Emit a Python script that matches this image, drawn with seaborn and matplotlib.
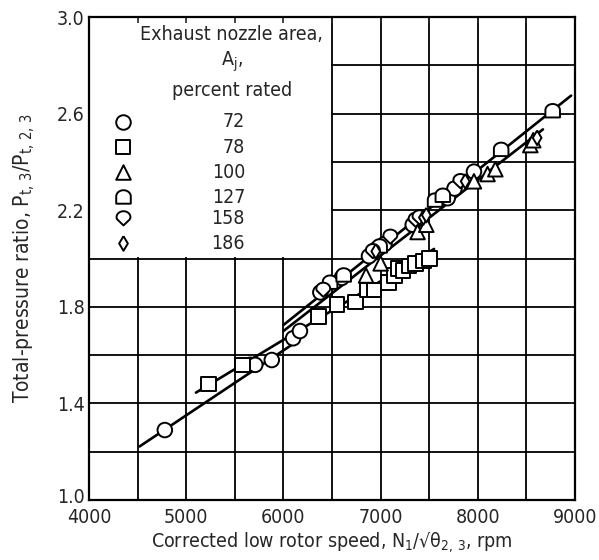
import numpy as np
import pandas as pd
import seaborn as sns
import matplotlib.pyplot as plt
import matplotlib.transforms as mtransforms
from matplotlib.path import Path
from matplotlib.markers import MarkerStyle
from matplotlib.patches import Rectangle

# exhaust nozzle area, percent rated -> (speed, pressure ratio)
x_72 = [4780, 5660, 5710, 5880, 6100, 6170, 6380, 6600, 6880, 6960, 7040, 7330, 7420, 7690, 7760, 7960]
y_72 = [1.29, 1.56, 1.56, 1.58, 1.67, 1.70, 1.86, 1.92, 2.01, 2.04, 2.06, 2.14, 2.17, 2.25, 2.29, 2.36]
x_78 = [5230, 5580, 6360, 6550, 6740, 6860, 6930, 7080, 7140, 7180, 7230, 7290, 7360, 7440, 7500]
y_78 = [1.48, 1.56, 1.76, 1.81, 1.82, 1.87, 1.87, 1.90, 1.93, 1.96, 1.95, 1.97, 1.98, 1.99, 2.00]
x_100 = [6850, 7000, 7380, 7470, 7960, 8100, 8180, 8540, 8570]
y_100 = [1.93, 1.98, 2.11, 2.14, 2.32, 2.35, 2.37, 2.47, 2.49]
x_127 = [6480, 6620, 6990, 7560, 7640, 8240, 8770]
y_127 = [1.90, 1.93, 2.05, 2.24, 2.26, 2.45, 2.61]
x_158 = [6410, 6920, 7100, 7360, 7400, 7820]
y_158 = [1.87, 2.03, 2.09, 2.16, 2.17, 2.32]
x_186 = [6950, 7440, 7470, 7870, 8610]
y_186 = [2.03, 2.17, 2.18, 2.32, 2.50]

areas = ["72", "78", "100", "127", "158", "186"]

# faired curves (end points)
fair_lines = {
    "72": ([4520, 6150], [1.222, 1.66]),
    "78": ([5100, 7550], [1.445, 2.04]),
    "100": ([6000, 8670], [1.70, 2.535]),
    "main": ([6000, 8960], [1.725, 2.675]),
}

df = pd.concat([
    pd.DataFrame({"speed": x, "ratio": y, "area": a})
    for x, y, a in zip([x_72, x_78, x_100, x_127, x_158, x_186],
                       [y_72, y_78, y_100, y_127, y_158, y_186], areas)
])

# custom marker shapes
t = np.linspace(0, np.pi, 25)
dome = Path(np.vstack([np.c_[np.cos(t), 0.15 + 0.85 * np.sin(t)],
                       [[-1, -0.85], [1, -0.85], [1, 0.15]]]), closed=False)
t2 = np.linspace(-0.35, np.pi + 0.35, 25)
shield = Path(np.vstack([np.c_[np.cos(t2), 0.2 + 0.85 * np.sin(t2)],
                         [[0, -1.0], [np.cos(-0.35), 0.2 + 0.85 * np.sin(-0.35)]]]))
diamond = Path([[0, 1], [0.6, 0], [0, -1], [-0.6, 0], [0, 1]])
markers = {"72": "o", "78": "s", "100": "^", "127": dome, "158": shield, "186": diamond}

sns.set_style("white")
plt.rcParams["font.family"] = ["DejaVu Sans"]
plt.rcParams["font.stretch"] = "condensed"
plt.rcParams["mathtext.default"] = "regular"

fig = plt.figure(figsize=(5.99, 5.6), dpi=100)
ax = fig.add_axes([0.1486, 0.107, 0.8114, 0.8625])

# grid drawn by hand so the legend block can blank it
for xv in np.arange(4500, 9000, 500):
    ax.axvline(xv, color="black", lw=1.3, zorder=1)
for yv in np.arange(1.2, 3.0, 0.2):
    ax.axhline(yv, color="black", lw=1.3, zorder=1)
ax.add_patch(Rectangle((4000, 2.006), 2488, 1.0, facecolor="white", edgecolor="none", zorder=1.2))

for key, (lx, ly) in fair_lines.items():
    sns.lineplot(x=lx, y=ly, ax=ax, color="black", lw=1.9, estimator=None, sort=False, zorder=2)

sns.scatterplot(data=df, x="speed", y="ratio", style="area", markers=markers,
                style_order=areas, s=110, color="black", facecolor="white",
                edgecolor="black", linewidth=1.4, legend=False, ax=ax, zorder=3)

ax.set_xlim(4000, 9000)
ax.set_ylim(1.0, 3.0)
ax.set_xticks(np.arange(4000, 9001, 1000))
ax.set_xticks(np.arange(4500, 9000, 1000), minor=True)
ax.set_yticks(np.arange(1.0, 3.01, 0.4))
ax.set_yticks(np.arange(1.2, 3.0, 0.4), minor=True)
ax.set_yticklabels(["1.0", "1.4", "1.8", "2.2", "2.6", "3.0"])
ax.tick_params(which="both", direction="in", length=4, width=1.2, top=True, right=True,
               labelsize=14)
ax.tick_params(axis="x", pad=6)
ax.tick_params(axis="y", pad=3)
ax.set_axisbelow("line")
for sp in ax.spines.values():
    sp.set_linewidth(1.6)
    sp.set_color("black")

# lift the bottom y label a little, as in the original
lab0 = ax.get_yticklabels()[0]
lab0.set_transform(lab0.get_transform() + mtransforms.ScaledTranslation(0, 3 / 72, fig.dpi_scale_trans))

ax.set_xlabel("Corrected low rotor speed, N$_1$/√θ$_{2,\\,3}$, rpm", fontsize=14, labelpad=2)
ax.set_ylabel(r"Total-pressure ratio, P$_{t,\,3}$/P$_{t,\,2,\,3}$", fontsize=15, labelpad=14)

# legend block
ax.text(0.294, 0.963, "Exhaust nozzle area,", transform=ax.transAxes, ha="center", va="center", fontsize=14)
ax.text(0.294, 0.908, r"A$_j$,", transform=ax.transAxes, ha="center", va="center", fontsize=14)
ax.text(0.294, 0.849, "percent rated", transform=ax.transAxes, ha="center", va="center", fontsize=14)
leg_y = [0.783, 0.731, 0.679, 0.627, 0.584, 0.532]
for a, yy in zip(areas, leg_y):
    ax.scatter([0.070], [yy], transform=ax.transAxes, marker=MarkerStyle(markers[a]), s=110,
               facecolor="white", edgecolor="black", linewidth=1.4, zorder=4, clip_on=False)
    ax.text(0.321, yy, a, transform=ax.transAxes, ha="right", va="center", fontsize=14)

fig.savefig("out.png", dpi=100)
